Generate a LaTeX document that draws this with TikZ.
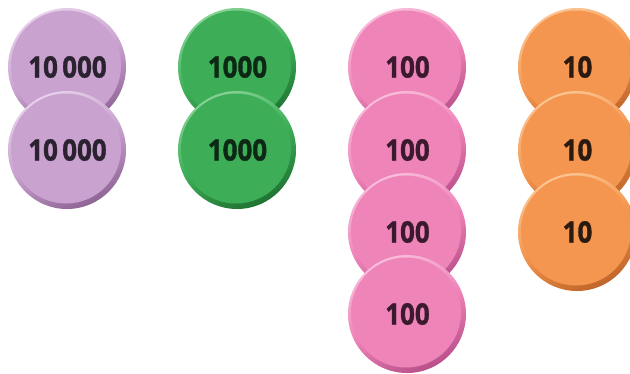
\documentclass[tikz,border=0pt]{standalone}
\usepackage{fontspec}
\setmainfont{Open Sans}[BoldFeatures={FakeBold=1.2}]
\usepackage{graphicx}
\definecolor{puface}{HTML}{C9A2CF}
\definecolor{purim}{HTML}{8F6496}
\definecolor{puhi}{HTML}{E6D0EA}
\definecolor{putxt}{HTML}{2B2230}
\definecolor{grface}{HTML}{3DAE57}
\definecolor{grrim}{HTML}{1F7332}
\definecolor{grhi}{HTML}{86D295}
\definecolor{grtxt}{HTML}{0D2814}
\definecolor{piface}{HTML}{EF84B9}
\definecolor{pirim}{HTML}{B9508A}
\definecolor{pihi}{HTML}{F9BDDA}
\definecolor{pitxt}{HTML}{3A1A2C}
\definecolor{orface}{HTML}{F4964F}
\definecolor{orrim}{HTML}{C0652A}
\definecolor{orhi}{HTML}{FBC593}
\definecolor{ortxt}{HTML}{2A1A10}
\tikzset{
  cointext/.style={inner sep=0pt, font=\fontsize{29.5}{29.5}\selectfont\bfseries}
}
% x, y, colour prefix, label, node name
\newcommand{\mycoin}[5]{%
  \shade[top color=#3hi, bottom color=#3rim, middle color=#3face, shading angle=25]
    (#1,#2) circle (59pt);
  \fill[#3face] (#1-1,#2-1.5) circle (55pt);
  \node[cointext, text=#3txt] (#5) at (#1+0.5,#2) {\scalebox{0.88}[1]{#4}};
}
\begin{document}
\begin{tikzpicture}[x=1pt,y=-1pt]
\useasboundingbox (0,0) rectangle (630,373);
\clip (0,0) rectangle (630,373);
\fill[white] (0,0) rectangle (630,373);
% ten thousands
\mycoin{67}{67}{pu}{10\,000}{tt1}
\mycoin{67}{150}{pu}{10\,000}{tt2}
% thousands
\mycoin{237}{67}{gr}{1000}{th1}
\mycoin{237}{150}{gr}{1000}{th2}
% hundreds
\mycoin{407}{67}{pi}{100}{h1}
\mycoin{407}{150}{pi}{100}{h2}
\mycoin{407}{232}{pi}{100}{h3}
\mycoin{407}{314}{pi}{100}{h4}
% tens
\mycoin{577}{67}{or}{10}{t1}
\mycoin{577}{150}{or}{10}{t2}
\mycoin{577}{232}{or}{10}{t3}
\end{tikzpicture}
\end{document}
